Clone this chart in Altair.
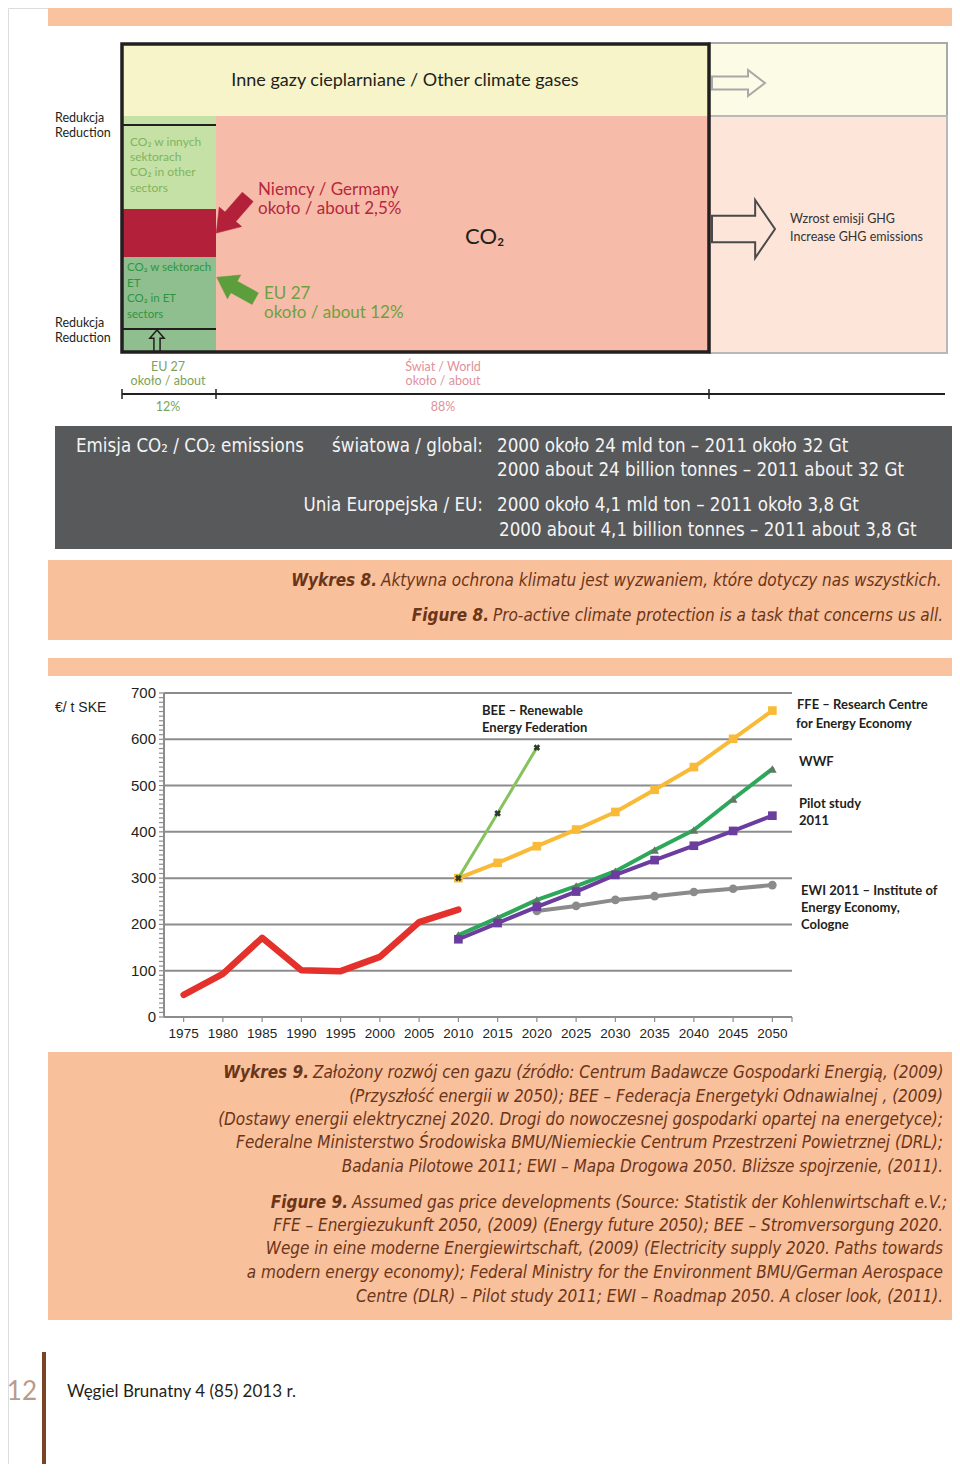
import altair as alt
import pandas as pd

# ---------------- Figure 9 data (gas price, EUR / t SKE) ----------------
hist_years = [1975, 1980, 1985, 1990, 1995, 2000, 2005, 2010]
hist_values = [48, 93, 171, 101, 99, 130, 205, 232]
bee_years = [2010, 2015, 2020]
bee_values = [300, 440, 582]
scen_years = [2010, 2015, 2020, 2025, 2030, 2035, 2040, 2045, 2050]
ffe_values = [300, 333, 369, 405, 443, 491, 540, 601, 662]
wwf_values = [177, 214, 253, 283, 315, 361, 404, 471, 536]
pilot_values = [168, 203, 238, 271, 307, 339, 370, 402, 435]
ewi_years = [2020, 2025, 2030, 2035, 2040, 2045, 2050]
ewi_values = [229, 240, 253, 261, 270, 277, 285]

x_tick_years = list(range(1975, 2051, 5))
y_tick_values = [0, 100, 200, 300, 400, 500, 600, 700]
y_minor_values = list(range(0, 701, 10))

# ---------------- fonts ----------------
SANS = "Lato, Open Sans, sans-serif"
NARROW = "Liberation Sans Narrow, DejaVu Sans Condensed, Roboto Condensed, sans-serif"
ARIAL = "Liberation Sans, Arial, sans-serif"

# ---------------- scales ----------------
PX = alt.Scale(domain=[8, 952], range=[0, 944], nice=False, zero=False)
PY = alt.Scale(domain=[8, 1464], range=[0, 1456], nice=False, zero=False)
CX = alt.Scale(domain=[1972.5, 2052.5], range=[156, 784], nice=False, zero=False)
CY = alt.Scale(domain=[0, 700], range=[1009, 685], nice=False, zero=False)
X0, X1 = 1972.5, 2052.5

# ---------------- page layout (schematic, page pixels) ----------------
rect_rows = [
    (48, 956, 8, 26, "#f9c3a0", "transparent", 0),
    (122, 709, 43, 116, "#f8f4c9", "transparent", 0),
    (216, 709, 116, 353, "#f7bca9", "transparent", 0),
    (122, 216, 116, 209, "#c6e1a6", "transparent", 0),
    (122, 216, 209, 257, "#b2203a", "transparent", 0),
    (122, 216, 257, 353, "#8fbf8e", "transparent", 0),
    (709, 947, 43, 116, "#fbfbe6", "#a9a9a9", 2),
    (709, 947, 116, 353, "#fde5da", "#b8b8b8", 2),
    (122, 709, 44, 352, "transparent", "#231f20", 3.5),
    (55, 952, 426, 549, "#58595b", "transparent", 0),
    (48, 956, 560, 640, "#f9c09c", "transparent", 0),
    (48, 956, 658, 676, "#f9c3a0", "transparent", 0),
    (48, 956, 1052, 1320, "#f9c09c", "transparent", 0),
]
rects = pd.DataFrame(rect_rows, columns=["x", "x2", "y", "y2", "fill", "stroke", "sw"])

rule_rows = [
    (122, 216, 125, 125, "#231f20", 2),
    (122, 216, 329, 329, "#231f20", 2),
    (122, 945, 394, 394, "#231f20", 2),
    (122, 122, 389, 399, "#231f20", 1.5),
    (216, 216, 389, 399, "#231f20", 1.5),
    (709, 709, 389, 399, "#231f20", 1.5),
    (44, 44, 1352, 1464, "#7b4425", 4),
]
rules = pd.DataFrame(rule_rows, columns=["x", "x2", "y", "y2", "color", "sw"])

page_layers = []
page_layers.append(
    alt.Chart(rects).mark_rect().encode(
        x=alt.X("x:Q", scale=PX, axis=None), x2="x2:Q",
        y=alt.Y("y:Q", scale=PY, axis=None), y2="y2:Q",
        fill=alt.Fill("fill:N", scale=None),
        stroke=alt.Stroke("stroke:N", scale=None),
        strokeWidth=alt.StrokeWidth("sw:Q", scale=None),
    )
)
page_layers.append(
    alt.Chart(rules).mark_rule().encode(
        x=alt.X("x:Q", scale=PX, axis=None), x2="x2:Q",
        y=alt.Y("y:Q", scale=PY, axis=None), y2="y2:Q",
        color=alt.Color("color:N", scale=None),
        strokeWidth=alt.StrokeWidth("sw:Q", scale=None),
    )
)

# arrows (custom symbol paths)
def arrow(x, y, path, size, angle, filled, color, sw=1.5):
    df = pd.DataFrame({"x": [x], "y": [y]})
    kw = dict(shape=path, size=size, angle=angle, filled=filled, opacity=1)
    if filled:
        kw.update(fill=color, stroke=color, strokeWidth=0.5)
    else:
        kw.update(stroke=color, strokeWidth=sw, fill="transparent")
    return alt.Chart(df).mark_point(**kw).encode(
        x=alt.X("x:Q", scale=PX, axis=None), y=alt.Y("y:Q", scale=PY, axis=None)
    )

P_TOP = "M -1 -0.245 L 0.36 -0.245 L 0.36 -0.49 L 1 0 L 0.36 0.49 L 0.36 0.245 L -1 0.245 Z"
P_BIG = "M -1 -0.42 L 0.37 -0.42 L 0.37 -0.92 L 1 0 L 0.37 0.92 L 0.37 0.42 L -1 0.42 Z"
P_SOLID = "M -1 -0.3 L 0.1 -0.3 L 0.1 -0.62 L 1 0 L 0.1 0.62 L 0.1 0.3 L -1 0.3 Z"
P_UP = "M -1 -0.28 L 0.25 -0.28 L 0.25 -0.65 L 1 0 L 0.25 0.65 L 0.25 0.28 L -1 0.28 Z"

page_layers.append(arrow(738.5, 83, P_TOP, 53 * 53, 0, False, "#a8a8a8", 2))
page_layers.append(arrow(743.5, 229, P_BIG, 63 * 63, 0, False, "#4a4a4a", 2))
page_layers.append(arrow(232, 215, P_SOLID, 48 * 48, 131, True, "#b2203a"))
page_layers.append(arrow(236, 288, P_SOLID, 44 * 44, 209, True, "#5c9e3c"))
page_layers.append(arrow(157, 341, P_UP, 22 * 22, 270, False, "#231f20", 1.5))


def text_layer(rows, font, weight="normal", style="normal", align="left"):
    df = pd.DataFrame(rows, columns=["x", "y", "text", "size", "color"])
    return alt.Chart(df).mark_text(
        font=font, fontWeight=weight, fontStyle=style, align=align, baseline="middle"
    ).encode(
        x=alt.X("x:Q", scale=PX, axis=None),
        y=alt.Y("y:Q", scale=PY, axis=None),
        text="text:N",
        size=alt.Size("size:Q", scale=None),
        color=alt.Color("color:N", scale=None),
    )

DARK = "#231f20"
LGREEN = "#7fb55e"
DGREEN = "#2f9444"
RED = "#b5283c"
OGREEN = "#6fa040"
BAND = "#f4f4f4"
BROWN = "#6b3518"
CAP = 17
BS = 18.6

sans_left = [
    (55, 118, "Redukcja", 12.5, DARK), (55, 133, "Reduction", 12.5, DARK),
    (55, 323, "Redukcja", 12.5, DARK), (55, 338, "Reduction", 12.5, DARK),
    (130, 142, "CO₂ w innych", 12, LGREEN), (130, 157, "sektorach", 12, LGREEN),
    (130, 172, "CO₂ in other", 12, LGREEN), (130, 188, "sectors", 12, LGREEN),
    (127, 268, "CO₂ w sektorach", 11.5, DGREEN), (127, 284, "ET", 11.5, DGREEN),
    (127, 299, "CO₂ in ET", 11.5, DGREEN), (127, 315, "sectors", 11.5, DGREEN),
    (258, 190, "Niemcy / Germany", 17, RED), (258, 209, "około / about 2,5%", 17, RED),
    (264, 294, "EU 27", 17, OGREEN), (264, 313, "około / about 12%", 17, OGREEN),
    (465, 237, "CO₂", 22, DARK),
    (790, 219, "Wzrost emisji GHG", 12.5, "#333333"),
    (790, 237, "Increase GHG emissions", 12.5, "#333333"),
    (67, 1392, "Węgiel Brunatny 4 (85) 2013 r.", 17, DARK),
]
sans_center = [
    (405, 81, "Inne gazy cieplarniane / Other climate gases", 18, DARK),
    (168, 367, "EU 27", 12.5, "#7aa35a"), (168, 381, "około / about", 12.5, "#7aa35a"),
    (168, 407, "12%", 12.5, "#7aa35a"),
    (443, 367, "Świat / World", 12.5, "#e0919b"), (443, 381, "około / about", 12.5, "#e0919b"),
    (443, 407, "88%", 12.5, "#e0919b"),
]
sans_right = [
    (37, 1392, "12", 26, "#b89b8a"),
]
band_left = [
    (76, 446, "Emisja CO₂ / CO₂ emissions", BS, BAND),
    (497, 446, "2000 około 24 mld ton – 2011 około 32 Gt", BS, BAND),
    (497, 470, "2000 about 24 billion tonnes – 2011 about 32 Gt", BS, BAND),
    (497, 505, "2000 około 4,1 mld ton – 2011 około 3,8 Gt", BS, BAND),
    (499, 530, "2000 about 4,1 billion tonnes – 2011 about 3,8 Gt", BS, BAND),
]
band_right = [
    (483, 446, "światowa / global:", BS, BAND),
    (483, 505, "Unia Europejska / EU:", BS, BAND),
]
cap_bold = [
    (377, 581, "Wykres 8.", CAP, BROWN),
    (489, 616, "Figure 8.", CAP, BROWN),
    (309, 1073, "Wykres 9.", CAP, BROWN),
    (348, 1203, "Figure 9.", CAP, BROWN),
]
cap_left = [
    (381, 581, "Aktywna ochrona klimatu jest wyzwaniem, które dotyczy nas wszystkich.", CAP, BROWN),
    (493, 616, "Pro-active climate protection is a task that concerns us all.", CAP, BROWN),
    (313, 1073, "Założony rozwój cen gazu (źródło: Centrum Badawcze Gospodarki Energią, (2009)", CAP, BROWN),
    (352, 1203, "Assumed gas price developments (Source: Statistik der Kohlenwirtschaft e.V.;", CAP, BROWN),
]
cap_right = [
    (943, 1097, "(Przyszłość energii w 2050); BEE – Federacja Energetyki Odnawialnej , (2009)", CAP, BROWN),
    (943, 1120, "(Dostawy energii elektrycznej 2020. Drogi do nowoczesnej gospodarki opartej na energetyce);", CAP, BROWN),
    (943, 1143, "Federalne Ministerstwo Środowiska BMU/Niemieckie Centrum Przestrzeni Powietrznej (DRL);", CAP, BROWN),
    (943, 1167, "Badania Pilotowe 2011; EWI – Mapa Drogowa 2050. Bliższe spojrzenie, (2011).", CAP, BROWN),
    (943, 1226, "FFE – Energiezukunft 2050, (2009) (Energy future 2050); BEE – Stromversorgung 2020.", CAP, BROWN),
    (943, 1249, "Wege in eine moderne Energiewirtschaft, (2009) (Electricity supply 2020. Paths towards", CAP, BROWN),
    (943, 1273, "a modern energy economy); Federal Ministry for the Environment BMU/German Aerospace", CAP, BROWN),
    (943, 1297, "Centre (DLR) – Pilot study 2011; EWI – Roadmap 2050. A closer look, (2011).", CAP, BROWN),
]
label_bold = [
    (482, 711, "BEE – Renewable", 13, DARK), (482, 728, "Energy Federation", 13, DARK),
    (797, 705, "FFE – Research Centre", 13, DARK), (796, 724, "for Energy Economy", 13, DARK),
    (799, 762, "WWF", 13, DARK),
    (799, 804, "Pilot study", 13, DARK), (799, 821, "2011", 13, DARK),
    (801, 891, "EWI 2011 – Institute  of", 13, DARK), (801, 908, "Energy Economy,", 13, DARK),
    (801, 925, "Cologne", 13, DARK),
]
arial_left = [(55, 708, "€/ t SKE", 14, DARK)]

page_layers += [
    text_layer(sans_left, SANS),
    text_layer(sans_center, SANS, align="center"),
    text_layer(sans_right, SANS, align="right"),
    text_layer(band_left, NARROW),
    text_layer(band_right, NARROW, align="right"),
    text_layer(cap_bold, NARROW, weight="bold", style="italic", align="right"),
    text_layer(cap_left, NARROW, style="italic"),
    text_layer(cap_right, NARROW, style="italic", align="right"),
    text_layer(label_bold, SANS, weight="bold"),
    text_layer(arial_left, ARIAL),
]
page = alt.layer(*page_layers)

# ---------------- Figure 9 chart (data scales) ----------------
def cx(f="year:Q"):
    return alt.X(f, scale=CX, axis=None)

def cy(f="value:Q"):
    return alt.Y(f, scale=CY, axis=None)

grid = pd.DataFrame({"value": y_tick_values, "x0": X0, "x1": X1})
minor = pd.DataFrame({"value": y_minor_values, "x0": X0})
xt = pd.DataFrame({"year": x_tick_years + [X1], "zero": 0})
xl = pd.DataFrame({"year": x_tick_years, "zero": 0, "label": [str(v) for v in x_tick_years]})
yl = pd.DataFrame({"value": y_tick_values, "x0": X0, "label": [str(v) for v in y_tick_values]})
yaxis = pd.DataFrame({"x0": [X0], "v0": [0], "v1": [700]})

chart_layers = [
    alt.Chart(grid).mark_rule(color="#8c8c8c", strokeWidth=2).encode(
        x=cx("x0:Q"), x2="x1:Q", y=cy()),
    alt.Chart(yaxis).mark_rule(color="#8c8c8c", strokeWidth=2).encode(
        x=cx("x0:Q"), y=cy("v0:Q"), y2="v1:Q"),
    alt.Chart(minor).mark_rule(color="#8c8c8c", strokeWidth=1.2, xOffset=-5, x2Offset=0).encode(
        x=cx("x0:Q"), x2="x0:Q", y=cy()),
    alt.Chart(xt).mark_rule(color="#8c8c8c", strokeWidth=1.2, yOffset=0, y2Offset=5).encode(
        x=cx(), y=cy("zero:Q"), y2="zero:Q"),
    alt.Chart(xl).mark_text(font=ARIAL, fontSize=13.5, color=DARK, dy=17, baseline="middle").encode(
        x=cx(), y=cy("zero:Q"), text="label:N"),
    alt.Chart(yl).mark_text(font=ARIAL, fontSize=15, color=DARK, dx=-8, align="right", baseline="middle").encode(
        x=cx("x0:Q"), y=cy(), text="label:N"),
]

series = [
    ("hist", hist_years, hist_values, "#e4312b", 6.5, None, None, None),
    ("ewi", ewi_years, ewi_values, "#8b8b8b", 4, "circle", "#8b8b8b", 75),
    ("ffe", scen_years, ffe_values, "#f9bb37", 4, "square", "#f9bb37", 75),
    ("wwf", scen_years, wwf_values, "#2da85b", 4, "triangle-up", "#5e7a63", 75),
    ("pilot", scen_years, pilot_values, "#6a3d9e", 4, "square", "#6a3d9e", 75),
    ("bee", bee_years, bee_values, "#86c35c", 3, "cross", "#2e3b2e", 45),
]
for name, yrs, vals, col, w, shp, mcol, msize in series:
    df = pd.DataFrame({"year": yrs, "value": vals})
    chart_layers.append(
        alt.Chart(df).mark_line(color=col, strokeWidth=w, strokeJoin="round", strokeCap="round").encode(
            x=cx(), y=cy())
    )
    if shp:
        kw = dict(shape=shp, size=msize, filled=True, color=mcol, opacity=1)
        if shp == "cross":
            kw["angle"] = 45
        chart_layers.append(alt.Chart(df).mark_point(**kw).encode(x=cx(), y=cy()))

plot = alt.layer(*chart_layers)

chart = alt.layer(page, plot).resolve_scale(x="independent", y="independent").properties(
    width=944, height=1456,
    autosize=alt.AutoSizeParams(type="none"),
    padding={"left": 0, "top": 0, "right": 0, "bottom": 0},
).configure_view(stroke=None).configure(background="transparent")

chart.save("out.html", embed_options={"renderer": "svg", "actions": False})
